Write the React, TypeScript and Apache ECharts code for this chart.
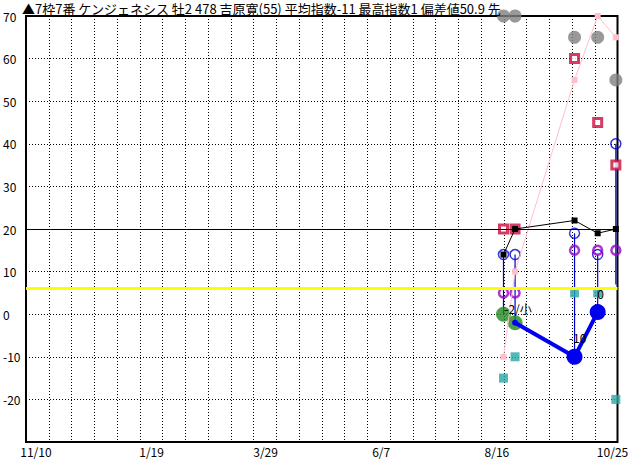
import React, { useEffect, useRef } from "react";
import * as echarts from "echarts";

const titleText = "▲7枠7番 ケンジェネシス 牡2 478 吉原寛(55) 平均指数-11 最高指数1 偏差値50.9 先";

// x axis: days counted from 11/10
const dateLabels = ["11/10", "1/19", "3/29", "6/7", "8/16", "10/25"];
const dateLabelDays = [0, 70, 139, 209, 279, 349];
const raceDays = [283, 290, 326, 340, 351];

const grayVals = [70, 70, 65, 65, 55];
const pinkVals = [-10, 10, 55, 70, 65];
const redVals = [20, 20, 60, 45, 35];
const blackVals = [14, 20, 22, 19, 20];
const blueHollowVals = [14, 14, 19, 14, 40];
const rangeBottomVals = [0, -2, -10, 0.5, 7];
const purpleVals = [5, 5, 15, 15, 15];
const cyanVals = [-15, -10, 5, 5, -20];
const greenVals: (number | null)[] = [0, -2, null, null, null];
const blueVals: (number | null)[] = [null, -2, -10, 0.5, null];
const blueLabels = ["", "-2/小", "-10", "0", ""];
const yellowLevel = 6;
const refLevel = 20;

const FONT = "'Noto Sans CJK JP', sans-serif";

function pairs(vals: (number | null)[]) {
  const out: any[] = [];
  vals.forEach((v, i) => {
    if (v !== null) out.push({ value: [raceDays[i], v], label: blueLabels[i] });
  });
  return out;
}

export default function App() {
  const ref = useRef<HTMLDivElement>(null);
  useEffect(() => {
    document.body.style.margin = "0";
    const chart = echarts.init(ref.current!, null, { renderer: "svg" });
    const option: any = {
      animation: false,
      backgroundColor: "#ffffff",
      title: {
        text: titleText,
        left: 22,
        top: 1,
        padding: 0,
        textStyle: { fontSize: 13, lineHeight: 14, fontWeight: "normal", color: "#000", fontFamily: FONT },
      },
      grid: {
        left: 25,
        top: 16,
        right: 14.5,
        bottom: 18,
        show: true,
        borderColor: "#000",
        borderWidth: 2,
        backgroundColor: "#fff",
      },
      xAxis: [
        {
          type: "value",
          min: -6,
          max: 352,
          axisLine: { show: false },
          axisTick: { show: false },
          splitLine: { show: false },
          axisLabel: {
            customValues: dateLabelDays,
            formatter: (v: number) => {
              const i = dateLabelDays.indexOf(v);
              return i >= 0 ? dateLabels[i] : "";
            },
            color: "#000",
            fontSize: 12,
            lineHeight: 12,
            fontFamily: FONT,
            margin: 3,
          },
        },
        {
          type: "value",
          min: 0,
          max: 26,
          interval: 1,
          position: "bottom",
          axisLine: { show: false },
          axisTick: { show: false },
          axisLabel: { show: false },
          splitLine: { show: true, lineStyle: { color: "#000", width: 1, type: [1, 2] } },
        },
      ],
      yAxis: {
        type: "value",
        min: -30,
        max: 70,
        interval: 10,
        axisLine: { show: false },
        axisTick: { show: false },
        splitLine: { show: true, lineStyle: { color: "#000", width: 1, type: [1, 2] } },
        axisLabel: {
          formatter: (v: number) => (v === -30 ? "" : String(v)),
          align: "left",
          margin: 23,
          color: "#000",
          fontSize: 12,
          fontFamily: FONT,
        },
      },
      series: [
        {
          type: "line",
          data: [],
          markLine: {
            silent: true,
            symbol: "none",
            label: { show: false },
            data: [
              { yAxis: refLevel, lineStyle: { color: "#000", width: 1, type: "solid" } },
              { yAxis: yellowLevel, lineStyle: { color: "#ffff00", width: 3, type: "solid" } },
            ],
          },
        },
        {
          type: "line",
          data: raceDays.map((d, i) => [d, pinkVals[i]]),
          symbol: "rect",
          symbolSize: 6,
          clip: false,
          itemStyle: { color: "#ffc0cb" },
          lineStyle: { color: "#ffc0cb", width: 1 },
        },
        {
          type: "custom",
          data: raceDays.map((d, i) => [d, blueHollowVals[i], rangeBottomVals[i]]),
          encode: { x: 0, y: [1, 2] },
          renderItem: (params: any, api: any) => {
            const a = api.coord([api.value(0), api.value(1)]);
            const b = api.coord([api.value(0), api.value(2)]);
            return {
              type: "line",
              shape: { x1: a[0], y1: a[1], x2: b[0], y2: b[1] },
              style: { stroke: "#0000cc", lineWidth: 1.2 },
            };
          },
        },
        {
          type: "scatter",
          data: raceDays.map((d, i) => [d, greenVals[i]]).filter((p) => p[1] !== null),
          symbol: "circle",
          symbolSize: 15,
          clip: false,
          itemStyle: { color: "#1f8a1f" },
        },
        {
          type: "line",
          data: pairs(blueVals),
          symbol: "circle",
          symbolSize: (_v: any, p: any) => (p.dataIndex === 0 ? 6 : 16),
          clip: false,
          itemStyle: { color: "#0000ee" },
          lineStyle: { color: "#0000ee", width: 4 },
          label: {
            show: true,
            position: "top",
            distance: 5,
            offset: [3, 0],
            formatter: (p: any) => p.data.label,
            color: "#000",
            fontSize: 12,
            fontFamily: FONT,
          },
        },
        {
          type: "scatter",
          data: raceDays.map((d, i) => [d, blueHollowVals[i]]),
          symbol: "circle",
          symbolSize: 10,
          clip: false,
          itemStyle: { color: "rgba(255,255,255,0)", borderColor: "#0000cc", borderWidth: 1.5 },
        },
        {
          type: "scatter",
          data: raceDays.map((d, i) => [d, purpleVals[i]]),
          symbol: "circle",
          symbolSize: 9,
          clip: false,
          itemStyle: { color: "rgba(255,255,255,0)", borderColor: "#9900cc", borderWidth: 2.5 },
        },
        {
          type: "scatter",
          data: raceDays.map((d, i) => [d, redVals[i]]),
          symbol: "rect",
          symbolSize: 8,
          clip: false,
          itemStyle: { color: "#ffffff", borderColor: "#cc0a3c", borderWidth: 3 },
        },
        {
          type: "line",
          data: raceDays.map((d, i) => [d, blackVals[i]]),
          symbol: "rect",
          symbolSize: 6,
          clip: false,
          itemStyle: { color: "#000" },
          lineStyle: { color: "#000", width: 1 },
        },
        {
          type: "scatter",
          data: raceDays.map((d, i) => [d, cyanVals[i]]),
          symbol: "rect",
          symbolSize: 9,
          clip: false,
          itemStyle: { color: "#2aa6a6" },
        },
        {
          type: "scatter",
          data: raceDays.map((d, i) => [d, grayVals[i]]),
          symbol: "circle",
          symbolSize: 13,
          clip: false,
          itemStyle: { color: "#808080" },
        },
      ],
    };
    chart.setOption(option);
    return () => chart.dispose();
  }, []);
  return <div ref={ref} style={{ width: 632, height: 460 }} />;
}
